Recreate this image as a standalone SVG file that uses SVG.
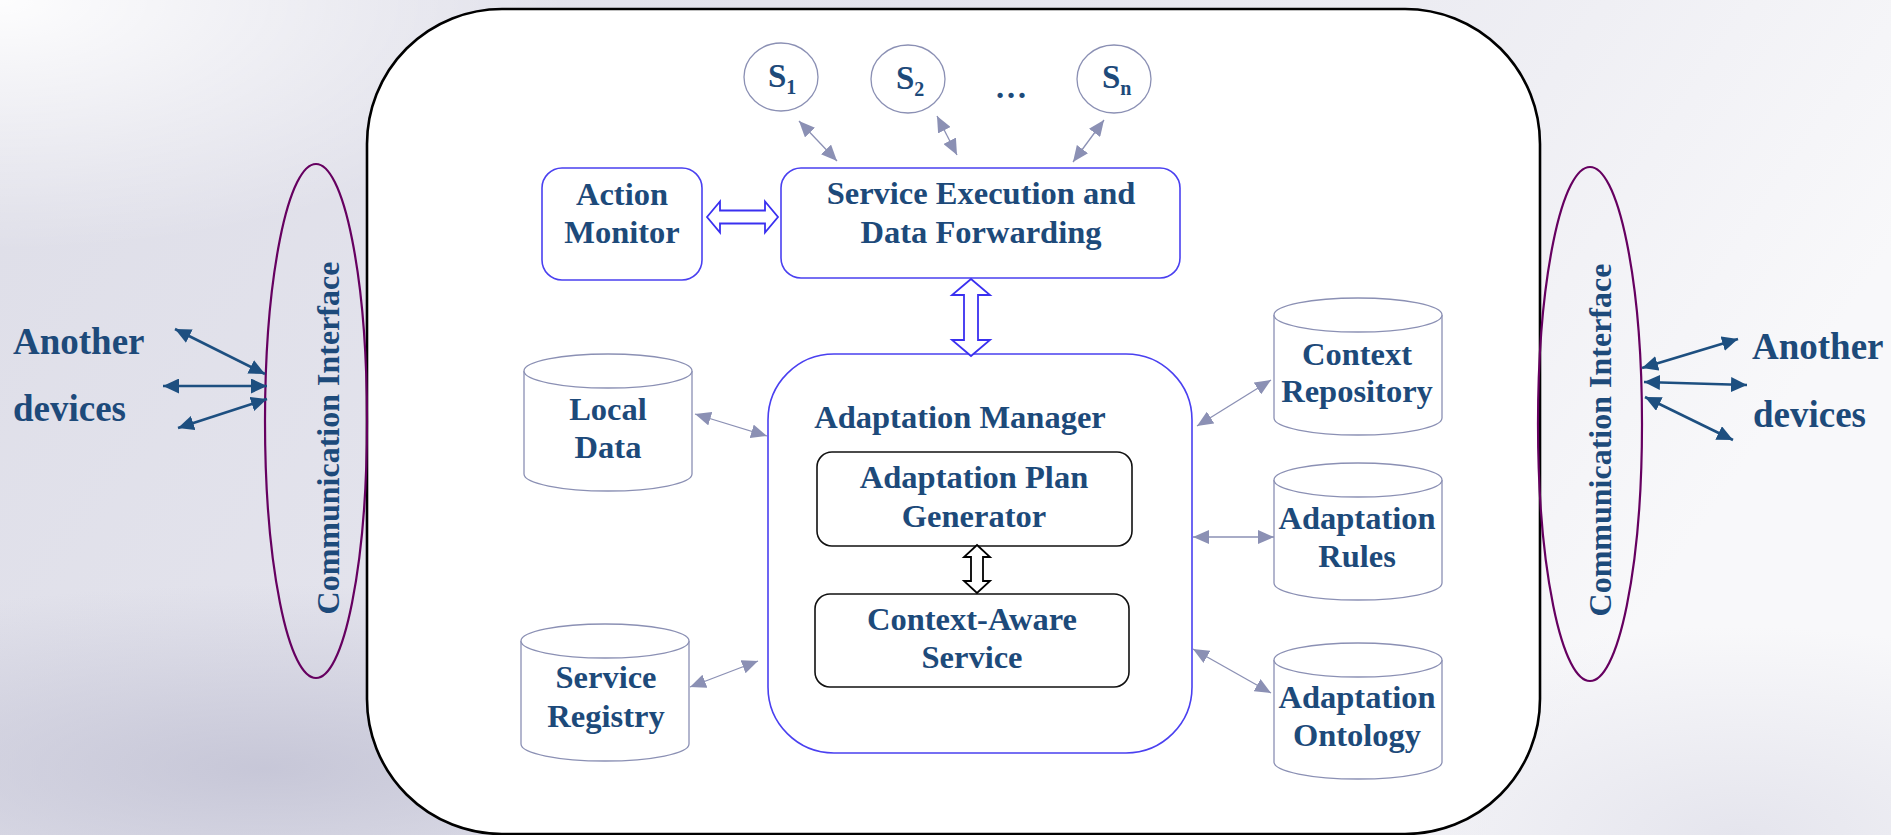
<svg xmlns="http://www.w3.org/2000/svg" width="1891" height="835" viewBox="0 0 1891 835">
  <defs>
    <linearGradient id="bgBase" x1="0" y1="0" x2="1" y2="0.3">
      <stop offset="0" stop-color="#dedee8"/>
      <stop offset="0.45" stop-color="#e4e4ed"/>
      <stop offset="0.78" stop-color="#efeff4"/>
      <stop offset="1" stop-color="#f8f8fa"/>
    </linearGradient>
    <radialGradient id="glowTL" cx="0.0" cy="0.0" r="0.3">
      <stop offset="0" stop-color="#ffffff" stop-opacity="0.95"/>
      <stop offset="1" stop-color="#ffffff" stop-opacity="0"/>
    </radialGradient>
    <radialGradient id="shadeBL" cx="0.14" cy="0.92" r="0.22" gradientTransform="translate(0.14,0.92) scale(1.6,1) translate(-0.14,-0.92)">
      <stop offset="0" stop-color="#c2c2d4" stop-opacity="0.85"/>
      <stop offset="1" stop-color="#c2c2d4" stop-opacity="0"/>
    </radialGradient>
    <radialGradient id="shadeBR" cx="0.92" cy="1.0" r="0.25">
      <stop offset="0" stop-color="#e0e0ea" stop-opacity="0.8"/>
      <stop offset="1" stop-color="#e0e0ea" stop-opacity="0"/>
    </radialGradient>
    <marker id="headGray" markerUnits="userSpaceOnUse" markerWidth="16" markerHeight="14" refX="16" refY="7" orient="auto-start-reverse">
      <path d="M0,0 L16,7 L0,14 Z" fill="#8b90b4"/>
    </marker>
    <marker id="headBlue" markerUnits="userSpaceOnUse" markerWidth="16" markerHeight="15" refX="16" refY="7.5" orient="auto-start-reverse">
      <path d="M0,0 L16,7.5 L0,15 Z" fill="#1d4f80"/>
    </marker>
    <style>
      .lbl { font-family: "Liberation Serif", "Times New Roman", serif; font-weight: bold; fill: #1d4a7a; font-size: 32.5px; text-anchor: middle; }
      .side { font-size: 37px; text-anchor: start; }
      .ci { font-size: 32px; }
      .sv { text-anchor: start; font-size: 33px; }
      .blueBox { fill: #ffffff; stroke: #4a40f0; stroke-width: 1.6; }
      .blackBox { fill: #ffffff; stroke: #111111; stroke-width: 1.6; }
      .cyl { fill: #ffffff; stroke: #8b90b4; stroke-width: 1.3; }
      .svc { fill: #ffffff; stroke: #8b90b4; stroke-width: 1.3; }
      .link { stroke: #8b90b4; stroke-width: 1.3; fill: none; marker-start: url(#headGray); marker-end: url(#headGray); }
      .ext { stroke: #1d4f80; stroke-width: 2.6; fill: none; marker-start: url(#headBlue); marker-end: url(#headBlue); }
      .iface { fill: none; stroke: #660060; stroke-width: 2.2; }
    </style>
  </defs>

  <!-- backdrop -->
  <rect x="0" y="0" width="1891" height="835" fill="url(#bgBase)"/>
  <rect x="0" y="0" width="1891" height="835" fill="url(#shadeBL)"/>
  <rect x="0" y="0" width="1891" height="835" fill="url(#shadeBR)"/>
  <rect x="0" y="0" width="1891" height="835" fill="url(#glowTL)"/>

  <!-- device boundary -->
  <g id="device">
    <rect x="367" y="9" width="1173" height="825" rx="135" ry="135" fill="#ffffff" stroke="#000000" stroke-width="2.6"/>
  </g>

  <!-- communication interfaces -->
  <g id="comm-left">
    <ellipse cx="316" cy="421" rx="51" ry="257" class="iface"/>
    <text class="lbl ci" transform="translate(339,438) rotate(-90)">Communication Interface</text>
  </g>
  <g id="comm-right">
    <ellipse cx="1590" cy="424" rx="52" ry="257" class="iface"/>
    <text class="lbl ci" transform="translate(1611,440) rotate(-90)">Communication Interface</text>
  </g>

  <g id="devices-left">
    <text class="lbl side" x="13" y="354">Another</text>
    <text class="lbl side" x="13" y="421">devices</text>
  </g>
  <g id="devices-right">
    <text class="lbl side" x="1752" y="359">Another</text>
    <text class="lbl side" x="1753" y="427">devices</text>
  </g>

  <!-- services -->
  <g id="s1">
    <ellipse cx="781" cy="77" rx="37" ry="34" class="svc"/>
    <text class="lbl sv" x="768" y="87">S<tspan font-size="20" dy="7">1</tspan></text>
  </g>
  <g id="s2">
    <ellipse cx="908" cy="79" rx="37" ry="34" class="svc"/>
    <text class="lbl sv" x="896" y="89">S<tspan font-size="20" dy="7">2</tspan></text>
  </g>
  <g id="sn">
    <ellipse cx="1114" cy="79" rx="37" ry="34" class="svc"/>
    <text class="lbl sv" x="1102" y="88">S<tspan font-size="20" dy="7">n</tspan></text>
  </g>
  <text class="lbl" x="1011" y="98" font-size="32">…</text>

  <!-- core components -->
  <g id="action-monitor">
    <rect x="542" y="168" width="160" height="112" rx="20" class="blueBox"/>
    <text class="lbl" x="622" y="205">Action</text>
    <text class="lbl" x="622" y="243">Monitor</text>
  </g>
  <g id="service-execution">
    <rect x="781" y="168" width="399" height="110" rx="20" class="blueBox"/>
    <text class="lbl" x="981" y="204">Service Execution and</text>
    <text class="lbl" x="981" y="243">Data Forwarding</text>
  </g>
  <g id="adaptation-manager">
    <rect x="768" y="354" width="424" height="399" rx="66" class="blueBox"/>
    <text class="lbl" x="960" y="428">Adaptation Manager</text>
  </g>
  <g id="plan-generator">
    <rect x="817" y="452" width="315" height="94" rx="15" class="blackBox"/>
    <text class="lbl" x="974" y="488">Adaptation Plan</text>
    <text class="lbl" x="974" y="527">Generator</text>
  </g>
  <g id="context-aware-service">
    <rect x="815" y="594" width="314" height="93" rx="15" class="blackBox"/>
    <text class="lbl" x="972" y="630">Context-Aware</text>
    <text class="lbl" x="972" y="668">Service</text>
  </g>

  <!-- data stores -->
  <g id="local-data">
    <path d="M524,371 A84,17 0 0 1 692,371 L692,474 A84,17 0 0 1 524,474 Z" class="cyl"/>
    <path d="M524,371 A84,17 0 0 0 692,371" class="cyl" fill="none"/>
    <text class="lbl" x="608" y="420">Local</text>
    <text class="lbl" x="608" y="458">Data</text>
  </g>
  <g id="service-registry">
    <path d="M521,641 A84,17 0 0 1 689,641 L689,744 A84,17 0 0 1 521,744 Z" class="cyl"/>
    <path d="M521,641 A84,17 0 0 0 689,641" class="cyl" fill="none"/>
    <text class="lbl" x="606" y="688">Service</text>
    <text class="lbl" x="606" y="727">Registry</text>
  </g>
  <g id="context-repository">
    <path d="M1274,315 A84,17 0 0 1 1442,315 L1442,418 A84,17 0 0 1 1274,418 Z" class="cyl"/>
    <path d="M1274,315 A84,17 0 0 0 1442,315" class="cyl" fill="none"/>
    <text class="lbl" x="1357" y="365">Context</text>
    <text class="lbl" x="1357" y="402">Repository</text>
  </g>
  <g id="adaptation-rules">
    <path d="M1274,480 A84,17 0 0 1 1442,480 L1442,583 A84,17 0 0 1 1274,583 Z" class="cyl"/>
    <path d="M1274,480 A84,17 0 0 0 1442,480" class="cyl" fill="none"/>
    <text class="lbl" x="1357" y="529">Adaptation</text>
    <text class="lbl" x="1357" y="567">Rules</text>
  </g>
  <g id="adaptation-ontology">
    <path d="M1274,660 A84,17 0 0 1 1442,660 L1442,762 A84,17 0 0 1 1274,762 Z" class="cyl"/>
    <path d="M1274,660 A84,17 0 0 0 1442,660" class="cyl" fill="none"/>
    <text class="lbl" x="1357" y="708">Adaptation</text>
    <text class="lbl" x="1357" y="746">Ontology</text>
  </g>

  <!-- connectors -->
  <g id="connectors">
    <line class="link" x1="799" y1="121" x2="837" y2="161"/>
    <line class="link" x1="937" y1="116" x2="957" y2="155"/>
    <line class="link" x1="1104" y1="120" x2="1073" y2="162"/>
    <line class="link" x1="695" y1="414" x2="767" y2="436"/>
    <line class="link" x1="690" y1="687" x2="758" y2="661"/>
    <line class="link" x1="1197" y1="426" x2="1271" y2="380"/>
    <line class="link" x1="1193" y1="537" x2="1274" y2="537"/>
    <line class="link" x1="1193" y1="649" x2="1271" y2="693"/>

    <line class="ext" x1="175" y1="329" x2="265" y2="374"/>
    <line class="ext" x1="163" y1="386" x2="267" y2="386"/>
    <line class="ext" x1="178" y1="428" x2="267" y2="399"/>
    <line class="ext" x1="1642" y1="368" x2="1738" y2="339"/>
    <line class="ext" x1="1644" y1="382" x2="1747" y2="385"/>
    <line class="ext" x1="1645" y1="397" x2="1733" y2="440"/>

    <!-- hollow two-way arrows -->
    <polygon points="707,217 720,201.5 720,210.5 765,210.5 765,201.5 778,217 765,232.5 765,223.5 720,223.5 720,232.5" fill="#ffffff" stroke="#3a30f0" stroke-width="1.8"/>
    <polygon points="971,279 990,295 978,295 978,340 990,340 971,356 952,340 964,340 964,295 952,295" fill="#ffffff" stroke="#3a30f0" stroke-width="1.8"/>
    <polygon points="977,545 990,557 983,557 983,581 990,581 977,593 964,581 971,581 971,557 964,557" fill="#ffffff" stroke="#000000" stroke-width="1.8"/>
  </g>
</svg>
